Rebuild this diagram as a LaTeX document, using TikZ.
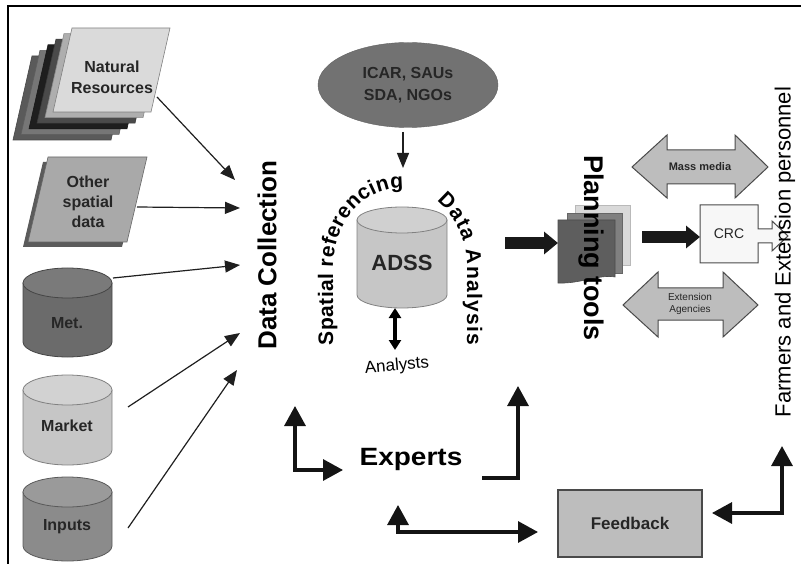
\documentclass[tikz,border=0pt]{standalone}
\usepackage{fontspec}
\setmainfont{Liberation Sans}
\usetikzlibrary{arrows.meta,decorations.text,shapes.geometric}
\definecolor{txt}{HTML}{262626}
\definecolor{nr0}{HTML}{DADADA}
\definecolor{nr1}{HTML}{AEAEAE}
\definecolor{nr2}{HTML}{4A4A4A}
\definecolor{nr3}{HTML}{1E1E1E}
\definecolor{nr4}{HTML}{767676}
\definecolor{nr5}{HTML}{5A5A5A}
\definecolor{osd}{HTML}{A9A9A9}
\definecolor{osdsh}{HTML}{5B5B5B}
\definecolor{metb}{HTML}{6B6B6B}
\definecolor{mett}{HTML}{7A7A7A}
\definecolor{mktb}{HTML}{C6C6C6}
\definecolor{mktt}{HTML}{D2D2D2}
\definecolor{inpb}{HTML}{8B8B8B}
\definecolor{inpt}{HTML}{9A9A9A}
\definecolor{icarc}{HTML}{727272}
\definecolor{adssb}{HTML}{C6C6C6}
\definecolor{adsst}{HTML}{D0D0D0}
\definecolor{arrg}{HTML}{BDBDBD}
\definecolor{edge}{HTML}{4A4A4A}
\definecolor{crcf}{HTML}{F7F7F7}
\newcommand{\fs}[1]{\fontsize{#1}{#1}\selectfont}
\newcommand{\fsb}[2]{\fontsize{#1}{#2}\selectfont}
\newcommand{\drawcyl}[7]{%
  \filldraw[fill=#6, draw=#6!65!black, line width=0.8pt] (#1,#3) -- (#1,#4)
    arc[start angle=180, end angle=0, x radius={(#2-#1)/2}, y radius=#5] -- (#2,#3) -- cycle;
  \filldraw[fill=#7, draw=#6!65!black, line width=0.8pt] ({(#1+#2)/2},#3) ellipse[x radius={(#2-#1)/2}, y radius=#5];
}
\begin{document}
\begin{tikzpicture}[x=1pt,y=-1pt,
  thinarr/.style={draw=black!88, line width=1.2pt, -{Triangle[length=15pt,width=12pt]}},
  bigarr/.style={draw=black!92, line width=3.2pt, {Triangle[length=20pt,width=21pt]}-{Triangle[length=20pt,width=21pt]}},
  onearr/.style={draw=black!92, line width=3.2pt, -{Triangle[length=20pt,width=21pt]}},
  blockarr/.style={draw=black!90, line width=12pt, -{Triangle[length=14pt,width=22pt]}},
  lbl/.style={font=\bfseries\fs{16}, text=txt, align=center},
  dblarrow/.style={fill=arrg, draw=edge, line width=1pt, line join=miter},
]
\useasboundingbox (0,0) rectangle (801,564);
\draw[line width=1.5pt] (8,564) -- (8,6) -- (801,6);

% Natural resources stack
\foreach \k/\col in {5/nr5,4/nr4,3/nr3,2/nr2,1/nr1} {
  \filldraw[fill=\col, draw=\col!80!black, line width=0.6pt, shift={(-8*\k,5.6*\k)}]
    (72,28) -- (170,28) -- (151,112) -- (53,112) -- cycle;
}
\filldraw[fill=nr0, draw=gray, line width=0.6pt] (72,28) -- (170,28) -- (151,112) -- (53,112) -- cycle;
\node[lbl, font=\bfseries\fsb{16}{21}] (nat) at (112,77) {Natural\\Resources};

% Other spatial data
\fill[osdsh] (43,162) -- (142,162) -- (122,247) -- (23,247) -- cycle;
\filldraw[fill=osd, draw=gray!80!black, line width=0.6pt] (48,157) -- (147,157) -- (127,242) -- (28,242) -- cycle;
\node[lbl, font=\bfseries\fsb{16}{20}] (osd) at (88,202) {Other\\spatial\\data};

% Cylinders
\drawcyl{23}{112}{283}{342}{15}{metb}{mett}
\node[lbl] (met) at (67,323) {Met.};
\drawcyl{23}{112}{390}{450}{15}{mktb}{mktt}
\node[lbl] (mkt) at (67,426) {Market};
\drawcyl{23}{112}{492}{546}{15}{inpb}{inpt}
\node[lbl] (inp) at (67,527) {Inputs};

% Data collection
\node[rotate=90, font=\bfseries\fs{26}] (dc) at (267,255) {Data Collection};
\coordinate (nrs) at (157,97);   \coordinate (nrt) at (235,180);
\coordinate (oss) at (137,207);  \coordinate (ost) at (240,208);
\coordinate (mes) at (113,278);  \coordinate (met2) at (240,265);
\coordinate (mks) at (128,407);  \coordinate (mkt2) at (240,333);
\coordinate (ins) at (128,528);  \coordinate (int2) at (237,370);
\draw[thinarr] (nrs) -- (nrt);
\draw[thinarr] (oss) -- (ost);
\draw[thinarr] (mes) -- (met2);
\draw[thinarr] (mks) -- (mkt2);
\draw[thinarr] (ins) -- (int2);

% ICAR
\node[ellipse, fill=icarc, draw=icarc!85!black, minimum width=180pt, minimum height=85pt, inner sep=0pt,
      font=\bfseries\fsb{16}{22}, text=txt, align=center] (icar) at (408,85) {ICAR, SAUs\\SDA, NGOs};
\coordinate (ia) at (403,132);
\coordinate (ib) at (403,168);
\draw[thinarr] (ia) -- (ib);

% ADSS
\drawcyl{357}{447}{220}{295}{13}{adssb}{adsst}
\node[font=\bfseries\fs{22}, text=txt] (adss) at (402,263) {ADSS};
\coordinate (an1) at (395,308);
\coordinate (an2) at (395,350);
\draw[line width=3.5pt, {Triangle[length=10pt,width=12pt]}-{Triangle[length=10pt,width=12pt]}] (an1) -- (an2);
\node[font=\fs{17}, rotate=5] (analysts) at (397,366) {Analysts};

% Curved texts
\path[decorate, decoration={text along path, text={|\bfseries\fs{21}|Spatial referencing}, text align={fit to path}}]
  (333,345) -- (333,268) arc[start angle=180, end angle=273, x radius=67, y radius=80];
\path[decorate, decoration={text along path, text={|\bfseries\fs{21}|Data Analysis}, text align={fit to path}}]
  ({400+67*cos(303)},{268+80*sin(303)}) arc[start angle=303, end angle=360, x radius=67, y radius=80] -- (467,345);

% Block arrow to planning tools
\coordinate (b1s) at (505,243);
\coordinate (b1t) at (558,243);
\draw[blockarr] (b1s) -- (b1t);

% Planning tools stack
\filldraw[fill=gray!30, draw=gray!55, line width=0.8pt] (575,205) rectangle (630,265);
\filldraw[fill=black!50, draw=black!60, line width=0.6pt] (567,213) rectangle (622,273);
\filldraw[fill=black!63, draw=black!70, line width=0.6pt] (558,220) -- (615,220) -- (615,277) .. controls (600,274) and (580,284) .. (558,283) -- cycle;
\node[rotate=-90, font=\bfseries\fs{27}] (pt) at (591,248) {Planning tools};

% Block arrow to CRC
\coordinate (b2s) at (642,237);
\coordinate (b2t) at (700,237);
\draw[blockarr] (b2s) -- (b2t);

% CRC
\filldraw[fill=crcf, draw=edge, line width=1pt, line join=miter]
  (700,205) -- (758,205) -- (758,229) -- (772,229) -- (772,221) -- (788,236) -- (772,251) -- (772,243) -- (758,243) -- (758,263) -- (700,263) -- cycle;
\node[font=\fs{14}, text=txt] (crc) at (729,234) {CRC};

% Mass media
\filldraw[dblarrow] (632,167) -- (667,135) -- (667,150) -- (735,150) -- (735,135) -- (768,167) -- (735,198) -- (735,184) -- (667,184) -- (667,198) -- cycle;
\node[font=\bfseries\fs{11}, text=txt] (mm) at (700,167) {Mass media};

% Extension agencies
\filldraw[dblarrow] (623,305) -- (658,272) -- (658,288) -- (723,288) -- (723,272) -- (758,305) -- (723,337) -- (723,320) -- (658,320) -- (658,337) -- cycle;
\node[font=\fsb{10}{12}, text=txt, align=center] (ea) at (690,304) {Extension\\Agencies};

% Farmers
\node[rotate=90, font=\fs{22}] (farm) at (785,252) {Farmers and Extension personnel};

% Experts
\node[font=\bfseries\fs{25}, xscale=1.12] (exp) at (411,459) {Experts};
\coordinate (l1a) at (295,406);
\coordinate (l1c) at (295,470);
\coordinate (l1b) at (343,470);
\draw[bigarr] (l1a) -- (l1c) -- (l1b);
\coordinate (r1s) at (482,478);
\coordinate (r1c) at (518,478);
\coordinate (r1t) at (518,386);
\draw[onearr] (r1s) -- (r1c) -- (r1t);

% Feedback
\node[fill=arrg, draw=edge, line width=1.5pt, minimum width=144pt, minimum height=67pt, font=\bfseries\fs{17}, text=txt] (fb) at (630,523.5) {Feedback};
\coordinate (l2a) at (398,505);
\coordinate (l2c) at (398,532);
\coordinate (l2b) at (538,532);
\draw[bigarr] (l2a) -- (l2c) -- (l2b);
\coordinate (l3a) at (782,446);
\coordinate (l3c) at (782,513);
\coordinate (l3b) at (712,513);
\draw[bigarr] (l3a) -- (l3c) -- (l3b);
\end{tikzpicture}
\end{document}
